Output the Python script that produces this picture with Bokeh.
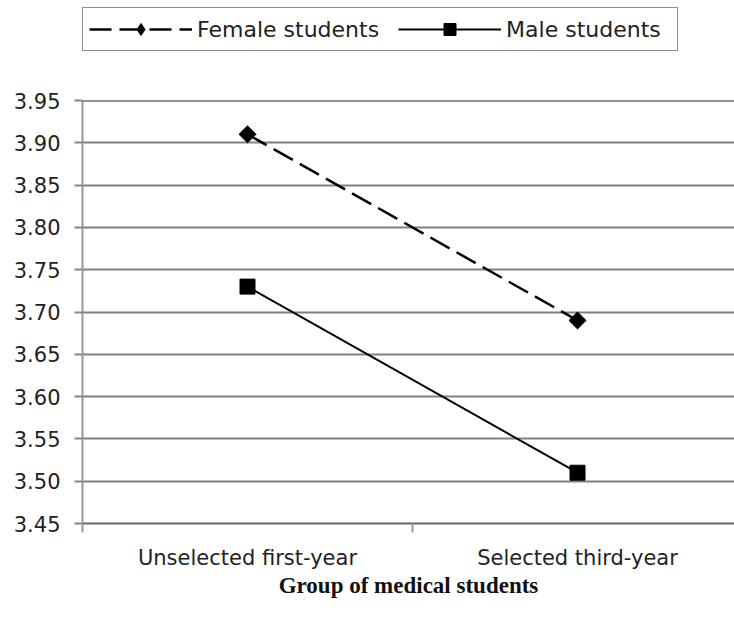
import math
from bokeh.plotting import figure
from bokeh.layouts import column
from bokeh.models import Range1d, FixedTicker, PrintfTickFormatter, Legend, LegendItem, Span
from bokeh.embed import file_html
from bokeh.resources import INLINE

categories = ["Unselected first-year", "Selected third-year"]
female = [3.91, 3.69]
male = [3.73, 3.51]
y_ticks = [3.45, 3.50, 3.55, 3.60, 3.65, 3.70, 3.75, 3.80, 3.85, 3.90, 3.95]
series_names = ["Female students", "Male students"]
x_title = "Group of medical students"

xs = [i + 0.5 for i in range(len(categories))]

W, H = 734, 617
LEG_H = 52
LEFT, TOP, BOTTOM = 82, 100 - LEG_H, 94
TXT = "#222222"
FONT = "DejaVu Sans"

FEMALE_LINE = dict(line_color="black", line_width=2.5, line_dash="22 8")
FEMALE_MARK = dict(marker="square", angle=math.pi / 4, size=12, fill_color="black", line_color="black")
MALE_LINE = dict(line_color="black", line_width=2)
MALE_MARK = dict(marker="square", size=15, fill_color="black", line_color="black")

# ---------- main chart ----------
p = figure(width=W, height=H - LEG_H, output_backend="svg", toolbar_location=None,
           x_range=Range1d(0, (W - LEFT) / 330), y_range=Range1d(y_ticks[0], y_ticks[-1]),
           min_border_left=LEFT, min_border_right=0, min_border_top=TOP, min_border_bottom=BOTTOM)
p.outline_line_color = None
p.background_fill_color = "white"

p.yaxis.ticker = FixedTicker(ticks=y_ticks)
p.yaxis.formatter = PrintfTickFormatter(format="%.2f")
p.yaxis.major_tick_out = 8
p.yaxis.major_tick_in = 0
p.yaxis.minor_tick_out = 0
p.yaxis.minor_tick_in = 0
p.yaxis.axis_line_color = "#999999"
p.yaxis.axis_line_width = 2
p.yaxis.major_tick_line_color = "#888888"
p.yaxis.major_tick_line_width = 2
p.yaxis.major_label_text_font = FONT
p.yaxis.major_label_text_font_size = "21px"
p.yaxis.major_label_text_color = TXT
p.yaxis.major_label_standoff = 14

p.xaxis.ticker = FixedTicker(ticks=xs, minor_ticks=list(range(len(categories) + 1)))
p.xaxis.major_label_overrides = {x: c for x, c in zip(xs, categories)}
p.xaxis.major_tick_out = 0
p.xaxis.major_tick_in = 0
p.xaxis.minor_tick_out = 9
p.xaxis.minor_tick_in = 0
p.xaxis.minor_tick_line_color = "#999999"
p.xaxis.minor_tick_line_width = 2
p.xaxis.axis_line_color = "#666666"
p.xaxis.axis_line_width = 2
p.xaxis.major_label_text_font = FONT
p.xaxis.major_label_text_font_size = "21px"
p.xaxis.major_label_text_color = TXT
p.xaxis.major_label_standoff = 13
p.xaxis.axis_label = x_title
p.xaxis.axis_label_text_font = "Liberation Serif"
p.xaxis.axis_label_text_font_style = "bold"
p.xaxis.axis_label_text_font_size = "23px"
p.xaxis.axis_label_text_color = "#111111"
p.xaxis.axis_label_standoff = 0

p.xgrid.visible = False
p.ygrid.ticker = FixedTicker(ticks=y_ticks)
p.ygrid.grid_line_color = "#808080"
p.ygrid.grid_line_width = 2
p.add_layout(Span(location=y_ticks[-1], dimension="width", line_color="#222222", line_width=2))

p.line(xs, female, **FEMALE_LINE)
p.scatter(xs, female, **FEMALE_MARK)
p.line(xs, male, **MALE_LINE)
p.scatter(xs, male, **MALE_MARK)

# ---------- legend strip (series drawn out of view; only the legend shows) ----------
pl = figure(width=W, height=LEG_H, output_backend="svg", toolbar_location=None,
            x_range=Range1d(0, 1), y_range=Range1d(10, 11),
            x_axis_type=None, y_axis_type=None,
            min_border_left=LEFT, min_border_right=0, min_border_top=7, min_border_bottom=0)
pl.grid.visible = False
pl.outline_line_color = None
fl = pl.line(xs, female, **FEMALE_LINE)
fm = pl.scatter(xs, female, marker="diamond", size=12, fill_color="black", line_color="black")
ml = pl.line(xs, male, **MALE_LINE)
mm = pl.scatter(xs, male, **MALE_MARK)

legend = Legend(items=[LegendItem(label=series_names[0], renderers=[fl, fm]),
                       LegendItem(label=series_names[1], renderers=[ml, mm])],
                orientation="horizontal", location="top_left")
legend.glyph_width = 103
legend.glyph_height = 30
legend.label_standoff = 5
legend.label_width = 165
legend.spacing = 19
legend.padding = 6
legend.margin = 0
legend.border_line_color = "#222222"
legend.border_line_width = 1.5
legend.background_fill_alpha = 1
legend.label_text_font = FONT
legend.label_text_font_size = "22px"
legend.label_text_color = TXT
legend.label_height = 26
pl.add_layout(legend, "center")

layout = column(pl, p, spacing=0)
open("out.html", "w").write(file_html(layout, INLINE))
